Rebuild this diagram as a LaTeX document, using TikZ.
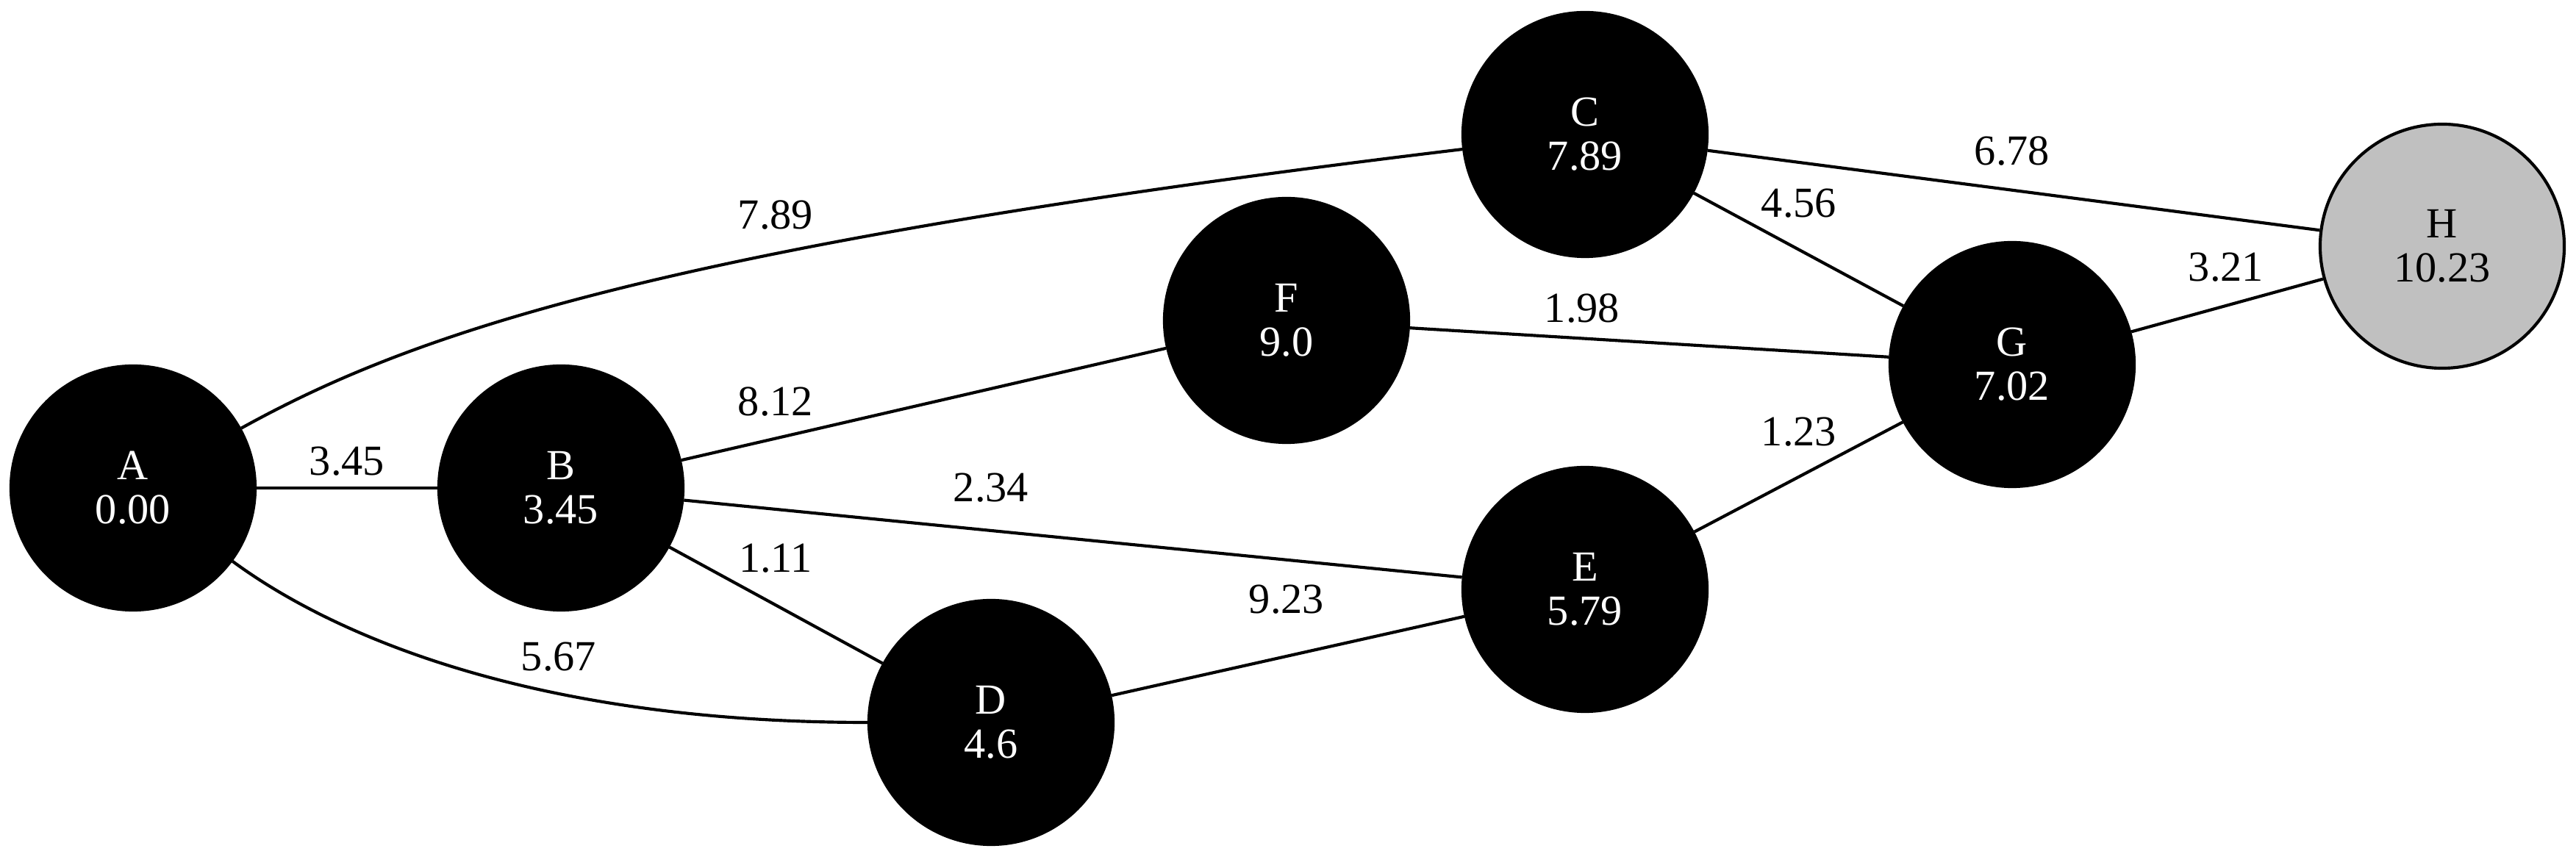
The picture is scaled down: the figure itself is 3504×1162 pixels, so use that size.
\documentclass[tikz,border=0pt]{standalone}
\usepackage{fontspec}
\setmainfont{Liberation Serif}
\definecolor{silver}{RGB}{192,192,192}
\tikzset{lbl/.style={font=\fontsize{14}{14.4}\selectfont, inner sep=0pt}}
\tikzset{d/.style={main, fill=black, text=white}}
\tikzset{h/.style={main, fill=silver, text=black}}

\begin{document}
\begin{tikzpicture}[x=0.24pt, y=-0.24pt, line width=1pt, main/.style={draw, circle, minimum size=79.7pt, inner sep=0pt, align=center, font=\fontsize{14}{14.4}\selectfont}]
    \useasboundingbox (0,0) rectangle (3504,1162);
    \node[d] (A) at (181,664) {A\\0.00};
    \node[d] (B) at (763,664) {B\\3.45};
    \node[d] (C) at (2156,183) {C\\7.89};
    \node[d] (F) at (1750,436) {F\\9.0};
    \node[d] (G) at (2737,496) {G\\7.02};
    \node[d] (E) at (2156,802) {E\\5.79};
    \node[d] (D) at (1348,983) {D\\4.6};
    \node[h] (H) at (3322,335) {H\\10.23};

    \draw (A) -- (B);
    \draw (A) .. controls (559,455) and (894,335) .. (C);
    \draw (A) .. controls (447,860) and (715,983) .. (D);
    \draw (B) -- (F);
    \draw (B) -- (E);
    \draw (B) -- (D);
    \draw (D) -- (E);
    \draw (F) -- (G);
    \draw (E) -- (G);
    \draw (C) -- (G);
    \draw (C) -- (H);
    \draw (G) -- (H);

    \node[lbl] (lAB) at (472,628) {3.45};
    \node[lbl] (lAC) at (1055,293) {7.89};
    \node[lbl] (lAD) at (760,894) {5.67};
    \node[lbl] (lBF) at (1055,547) {8.12};
    \node[lbl] (lBE) at (1348,664) {2.34};
    \node[lbl] (lBD) at (1055,760) {1.11};
    \node[lbl] (lDE) at (1750,816) {9.23};
    \node[lbl] (lFG) at (2152,420) {1.98};
    \node[lbl] (lEG) at (2447,588) {1.23};
    \node[lbl] (lCG) at (2447,277) {4.56};
    \node[lbl] (lCH) at (2737,206) {6.78};
    \node[lbl] (lGH) at (3028,364) {3.21};
\end{tikzpicture}
\end{document}
